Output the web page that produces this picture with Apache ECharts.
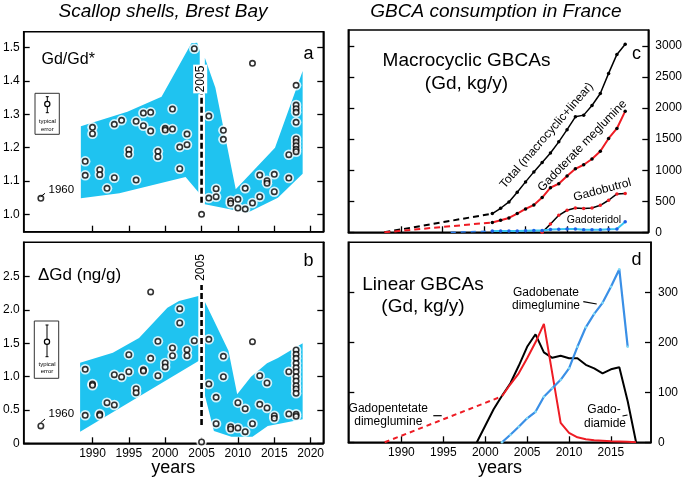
<!DOCTYPE html>
<html><head><meta charset="utf-8">
<script src="https://cdn.jsdelivr.net/npm/echarts@6/dist/echarts.min.js"></script>
<style>html,body{margin:0;padding:0;background:#fff}#c{width:685px;height:477px}</style>
</head><body><div id="c"></div>
<script>
// ================= DATA =================
const leftYearTicks = [1990, 1995, 2000, 2005, 2010, 2015, 2020];
const rightYearTicks = [1990, 1995, 2000, 2005, 2010, 2015];
const gdRatioTicks = [1.0, 1.1, 1.2, 1.3, 1.4, 1.5];
const deltaGdTicks = [0, 0.5, 1.0, 1.5, 2.0, 2.5];
const macroTicks = [0, 500, 1000, 1500, 2000, 2500, 3000];
const linearTicks = [0, 100, 200, 300];

// Panel a: Gd/Gd* in scallop shells
const gdRatioPoints = [
  [1989,1.159],[1989,1.117],[1990,1.261],[1990,1.242],[1991,1.134],[1991,1.119],
  [1992,1.078],[1993,1.110],[1993,1.270],[1994,1.282],[1995,1.194],[1995,1.180],
  [1996,1.279],[1996,1.103],[1997,1.304],[1997,1.266],[1998,1.306],[1998,1.250],
  [1999,1.189],[1999,1.173],[2000,1.258],[2000,1.253],[2001,1.256],[2001,1.316],
  [2002,1.202],[2002,1.137],[2003,1.241],[2003,1.209],[2004,1.497],[2005,1.000],
  [2006,1.295],[2006,1.049],[2007,1.077],[2007,1.053],[2008,1.252],[2008,1.225],
  [2009,1.041],[2009,1.033],[2010,1.045],[2010,1.019],[2011,1.078],[2011,1.016],
  [2012,1.034],[2012,1.453],[2013,1.118],[2013,1.053],[2014,1.101],[2014,1.093],
  [2015,1.120],[2015,1.068],[2017,1.179],[2017,1.109],
  [2018,1.387],[2018,1.328],[2018,1.317],[2018,1.306],[2018,1.276],[2018,1.227],
  [2018,1.217],[2018,1.206],[2018,1.195],[2018,1.188]
];
const gdRatio1960 = [[1982.9, 1.048]];   // 1960 shell, drawn off the time scale
const gdRatioBandLeft = [
  [1988.4,1.264],[1994.8,1.308],[1999.5,1.353],[2003.6,1.513],[2004.4,1.515],[2004.75,1.49],
  [2004.75,1.062],[2002.8,1.112],[1993.7,1.063],[1988.4,1.048]
];
const gdRatioBandRight = [
  [2005.45,1.47],[2006.9,1.38],[2009.7,1.075],[2012.5,1.14],[2015.1,1.2],[2018.9,1.43],
  [2018.9,1.122],[2015.5,1.05],[2011.3,1.005],[2005.45,1.03]
];

// Panel b: delta Gd (ng/g)
const deltaGdPoints = [
  [1989,1.11],[1989,0.42],[1990,0.89],[1990,0.87],[1991,0.44],[1991,0.42],[1992,0.61],
  [1993,0.575],[1993,1.03],[1994,0.995],[1995,1.33],[1995,1.075],[1996,0.82],[1996,0.76],
  [1997,1.105],[1997,1.085],[1998,2.27],[1998,1.275],[1999,1.53],[1999,1.015],
  [2000,1.205],[2000,1.145],[2001,1.43],[2001,1.315],[2002,2.02],[2002,1.805],
  [2003,1.405],[2003,1.315],[2004,1.54],[2005,0.02],
  [2006,1.56],[2006,0.89],[2007,0.69],[2007,0.295],[2008,1.305],[2008,1.0],
  [2009,0.25],[2009,0.215],[2010,0.61],[2010,0.23],[2011,0.52],[2011,0.175],
  [2012,1.525],[2012,0.295],[2013,1.015],[2013,0.585],[2014,0.905],[2014,0.53],
  [2015,0.415],[2015,0.375],[2017,1.075],[2017,0.44],
  [2018,1.40],[2018,1.335],[2018,1.275],[2018,1.20],[2018,1.135],[2018,1.075],[2018,1.0],
  [2018,0.935],[2018,0.865],[2018,0.815],[2018,0.75],[2018,0.435],[2018,0.405]
];
const deltaGd1960 = [[1982.9, 0.26]];
const deltaGdBandLeft = [
  [1988.3,1.21],[1992.8,1.36],[1996.4,1.58],[2000.3,2.035],[2001.9,2.135],[2004.7,2.215],
  [2004.7,1.243],[1988.3,0.175]
];
const deltaGdBandRight = [
  [2005.45,2.125],[2008.7,1.39],[2009.9,0.735],[2011.8,1.0],[2014.0,1.2],[2015.5,1.28],[2018.9,1.5],
  [2018.9,0.36],[2014.1,0.26],[2012.0,0.1],[2009.1,0.1],[2006.7,0.185],[2005.45,0.72]
];
const marker2005Year = 2005;
const marker2005A = [1.035, 1.36];
const marker2005B = [0.275, 2.374];

// Panel c: macrocyclic GBCAs (Gd, kg/y)
const macroYears = [2001,2002,2003,2004,2005,2006,2007,2008,2009,2010,2011,2012,2013,2014,2015,2016,2017];
const totalGbca   = [301,387,489,645,812,973,1126,1277,1457,1653,1860,1887,2042,2236,2559,2865,3027];
const gadoterate  = [159,194,231,301,376,440,559,718,782,906,1022,1088,1180,1306,1511,1672,1951];
const gadoteridol = [20,20,22,22,25,28,30,45,50,55,55,40,40,42,50,52,170];
const gadobutrolYears = [2007,2008,2009,2010,2011,2012,2013,2014,2015,2016,2017];
const gadobutrol = [0,132,274,355,392,382,392,435,516,618,624];
const totalEarlyYears = [1988, 2001];        const totalEarly = [0, 301];
const gadoterateEarlyYears = [1988, 2001];   const gadoterateEarly = [0, 159];
const gadoteridolEarlyYears = [1996, 2001];  const gadoteridolEarly = [0, 20];

// Panel d: linear GBCAs (Gd, kg/y)
const gadobenateYears = [2002,2003,2004,2005,2006,2007,2008,2009,2010,2011,2012,2013,2014,2015,2016,2017];
const gadobenate = [0,15,31,48,61,91,108,125,148,191,230,257,279,311,346,191];
const gadopentetateYears = [2002,2003,2004,2005,2006,2007,2009,2010,2011,2012,2013,2014,2015,2016,2017,2018];
const gadopentetate = [92,116,138,168,200,237,39,19,10,6,4,3,2,1.5,1,0];
const gadopentetateEarlyYears = [1988, 2002]; const gadopentetateEarly = [0, 92];
const gadodiamideYears = [1999,2000,2001,2002,2003,2004,2005,2006,2007,2008,2009,2010,2011,2012,2013,2014,2015,2016,2017,2018];
const gadodiamide = [0,33,66,93,118,153,191,216,180,169,173,168,168,155,148,138,146,150,82,0];

// ================= CHART =================
const FONT = "'Liberation Sans', Arial, Helvetica, sans-serif";
const BAND = '#1FC3F0';
const RED = '#EE1C24';
const zip = (xs, ys) => xs.map((x, i) => [x, ys[i]]);

const chart = echarts.init(document.getElementById('c'), null, {renderer: 'canvas'});

function xAx(grid, min, max, ticks, labels) {
  return {type: 'value', gridIndex: grid, min, max, splitLine: {show: false},
    axisLine: {show: true, onZero: false, lineStyle: {color: '#000', width: 1.5}},
    axisTick: {show: true, inside: true, length: 6, customValues: ticks, lineStyle: {color: '#000', width: 1.3}},
    axisLabel: {show: labels, customValues: ticks, margin: 4, color: '#000', fontSize: 12, fontFamily: FONT,
      formatter: v => String(v)}};
}
function yAx(grid, pos, min, max, ticks, labels, fmt, margin) {
  return {type: 'value', gridIndex: grid, position: pos, min, max, splitLine: {show: false},
    axisLine: {show: true, onZero: false, lineStyle: {color: '#000', width: 1.5}},
    axisTick: {show: true, inside: true, length: 6, customValues: ticks, lineStyle: {color: '#000', width: 1.3}},
    axisLabel: {show: labels, customValues: ticks, margin: margin || 4, color: '#000', fontSize: 12, fontFamily: FONT,
      formatter: fmt || (v => String(v))}};
}
const fmtA = v => v.toFixed(1);
const fmtB = v => v === 0 ? '0' : v.toFixed(1);

function band(xi, yi, polys) {
  return {type: 'custom', xAxisIndex: xi, yAxisIndex: yi, silent: true, z: 1,
    data: polys.map((p, i) => [p[0][0], p[0][1], i]),
    renderItem: (params, api) => ({type: 'polygon',
      shape: {points: polys[params.dataIndex].map(p => api.coord(p))},
      style: {fill: BAND}})};
}
function marker(xi, yi, ys) {
  const d = ys.map(y => [marker2005Year, y]);
  return [
    {type: 'line', xAxisIndex: xi, yAxisIndex: yi, data: d, symbol: 'none', silent: true, z: 3,
      lineStyle: {color: '#fff', width: 6.5}},
    {type: 'line', xAxisIndex: xi, yAxisIndex: yi, data: d, symbol: 'none', silent: true, z: 4,
      lineStyle: {color: '#000', width: 2.6, type: [6, 3], cap: 'butt'}}
  ];
}
function dots(xi, yi, pts) {
  return [
    {type: 'scatter', xAxisIndex: xi, yAxisIndex: yi, data: pts, symbol: 'circle', symbolSize: 10.5, z: 5,
      silent: true, itemStyle: {color: '#fff', borderWidth: 0}},
    {type: 'scatter', xAxisIndex: xi, yAxisIndex: yi, data: pts, symbol: 'circle', symbolSize: 5.4, z: 6,
      silent: true, itemStyle: {color: '#fff', borderColor: '#000', borderWidth: 1.6}}
  ];
}
function ln(xi, yi, data, color, width, dotColor, dotSize, dash, z) {
  return {type: 'line', xAxisIndex: xi, yAxisIndex: yi, data, silent: true, z: z || 3,
    symbol: dotColor ? 'circle' : 'none', symbolSize: dotSize || 3.5, showSymbol: !!dotColor,
    itemStyle: {color: dotColor || color, borderWidth: 0},
    lineStyle: {color, width, type: dash || 'solid'}};
}

const series = [
  band(0, 0, [gdRatioBandLeft, gdRatioBandRight]),
  ...marker(0, 0, marker2005A),
  ...dots(0, 0, gdRatioPoints.concat(gdRatio1960)),
  band(1, 2, [deltaGdBandLeft, deltaGdBandRight]),
  ...marker(1, 2, marker2005B),
  ...dots(1, 2, deltaGdPoints.concat(deltaGd1960)),
  // panel c
  ln(2, 4, zip(totalEarlyYears, totalEarly), '#000', 2, null, 0, [6, 4]),
  ln(2, 4, zip(gadoterateEarlyYears, gadoterateEarly), RED, 2, null, 0, [6, 4]),
  ln(2, 4, zip(gadoteridolEarlyYears, gadoteridolEarly), '#2F7DE8', 1.5, null, 0, [5, 5]),
  ln(2, 4, zip(macroYears, totalGbca), '#000', 1.5, '#000', 3.5),
  ln(2, 4, zip(macroYears, gadoterate), RED, 2, '#000', 3.5),
  ln(2, 4, zip(gadobutrolYears, gadobutrol), '#000', 1.5, RED, 3.5),
  ln(2, 4, zip(macroYears, gadoteridol), '#38C6F2', 2, '#1E5FE6', 3.5),
  // panel d
  ln(3, 6, zip(gadopentetateEarlyYears, gadopentetateEarly), RED, 2, null, 0, [5, 4]),
  ln(3, 6, zip(gadodiamideYears, gadodiamide), '#000', 2),
  ln(3, 6, zip(gadopentetateYears, gadopentetate), RED, 2),
  ln(3, 6, zip(gadobenateYears, gadobenate), '#3A8FE6', 2.2, '#7FDBF7', 2.5)
];

function T(text, x, y, size, opt) {
  opt = opt || {};
  return {type: 'text', x, y, rotation: opt.rot || 0, z: 50, silent: true,
    style: {text, fill: '#000', font: (opt.italic ? 'italic ' : '') + size + 'px ' + FONT,
      align: opt.align || 'center', verticalAlign: 'middle',
      backgroundColor: opt.bg, padding: opt.pad}};
}
function L(x1, y1, x2, y2, w) {
  return {type: 'line', z: 50, silent: true, shape: {x1, y1, x2, y2}, style: {stroke: '#000', lineWidth: w || 1}};
}
function errBox(bx, by, bw, bh, cx, t, b, c, ty, ey) {
  return [
    {type: 'rect', z: 50, silent: true, shape: {x: bx, y: by, width: bw, height: bh}, style: {fill: '#fff', stroke: '#333', lineWidth: 1}},
    L(cx, t, cx, b, 1), L(cx - 1.5, t, cx + 1.5, t, 1), L(cx - 1.5, b, cx + 1.5, b, 1),
    {type: 'circle', z: 51, silent: true, shape: {cx, cy: c, r: 2.6}, style: {fill: '#fff', stroke: '#000', lineWidth: 1.2}},
    T('typical', cx, ty, 6), T('error', cx, ey, 6)
  ];
}

const graphic = [
  T('Scallop shells, Brest Bay', 163, 12, 19, {italic: true}),
  T('GBCA consumption in France', 496, 12, 19, {italic: true}),
  T('Gd/Gd*', 41.5, 60, 16, {align: 'left'}),
  T('\u0394Gd (ng/g)', 38, 275, 17, {align: 'left'}),
  T('a', 308.5, 54, 18), T('b', 308.5, 261, 18), T('c', 636.5, 54.5, 18), T('d', 636.5, 260, 18),
  T('2005', 200.2, 79, 12, {rot: Math.PI / 2, bg: '#fff', pad: [1, 1]}),
  T('2005', 200.2, 267.5, 12, {rot: Math.PI / 2, bg: '#fff', pad: [1, 1]}),
  ...errBox(35, 93.3, 24.3, 41, 47.3, 96.7, 112.7, 104, 121.7, 129),
  ...errBox(34.3, 321, 24.4, 57.3, 47, 325, 356.7, 341.7, 364, 371.7),
  L(40.7, 196.7, 45, 193.3, 1), T('1960', 48.5, 190, 11.5, {align: 'left'}),
  L(40.7, 422.7, 45, 419, 1), T('1960', 48.5, 414, 11.5, {align: 'left'}),
  T('years', 173.3, 467.7, 18), T('years', 500, 468.3, 18),
  T('Macrocyclic GBCAs', 466.5, 61, 19), T('(Gd, kg/y)', 466.5, 83.3, 19),
  T('Linear GBCAs', 423, 284.3, 19), T('(Gd, kg/y)', 423, 306.7, 19),
  T('Total (macrocyclic+linear)', 546.7, 135.5, 12, {rot: 49 * Math.PI / 180}),
  T('Gadoterate meglumine', 582.3, 145.7, 12, {rot: 46 * Math.PI / 180}),
  T('Gadobutrol', 602.3, 190, 12, {rot: 15 * Math.PI / 180}),
  T('Gadoteridol', 594, 220, 10.5),
  T('Gadobenate', 546, 292.7, 12), T('dimeglumine', 546, 306, 12), L(583.3, 301.7, 596.7, 304, 1.2),
  T('Gadopentetate', 388.3, 408.3, 12), T('dimeglumine', 388.3, 421.7, 12), L(433.3, 415.7, 441.7, 415.7, 1.2),
  T('Gado-', 604, 410, 12), T('diamide', 605, 423.3, 12), L(622.5, 416, 627.5, 415, 1.2)
];

chart.setOption({
  animation: false,
  backgroundColor: '#fff',
  grid: [
    {left: 20.5, top: 31.7, width: 302.8, height: 200, show: true, borderColor: '#000', borderWidth: 1.5, backgroundColor: 'transparent'},
    {left: 20.5, top: 242.3, width: 302.8, height: 201, show: true, borderColor: '#000', borderWidth: 1.5, backgroundColor: 'transparent'},
    {left: 348.3, top: 30, width: 302.7, height: 202.3, show: true, borderColor: '#000', borderWidth: 1.5, backgroundColor: 'transparent'},
    {left: 348.3, top: 242.3, width: 302.7, height: 200, show: true, borderColor: '#000', borderWidth: 1.5, backgroundColor: 'transparent'}
  ],
  xAxis: [
    xAx(0, 1980.54, 2021.74, leftYearTicks, false),
    xAx(1, 1980.54, 2021.74, leftYearTicks, true),
    xAx(2, 1983.66, 2019.78, rightYearTicks, false),
    xAx(3, 1983.66, 2019.78, rightYearTicks, true)
  ],
  yAxis: [
    yAx(0, 'left', 0.948, 1.548, gdRatioTicks, true, fmtA, 4),
    yAx(0, 'right', 0.948, 1.548, gdRatioTicks, false),
    yAx(1, 'left', 0, 3.015, deltaGdTicks, true, fmtB, 4),
    yAx(1, 'right', 0, 3.015, deltaGdTicks, false),
    yAx(2, 'left', 0, 3258, macroTicks, false),
    yAx(2, 'right', 0, 3258, macroTicks, true, null, 7),
    yAx(3, 'left', 0, 400, linearTicks, false),
    yAx(3, 'right', 0, 400, linearTicks, true, null, 7)
  ],
  series,
  graphic
});
</script></body></html>
